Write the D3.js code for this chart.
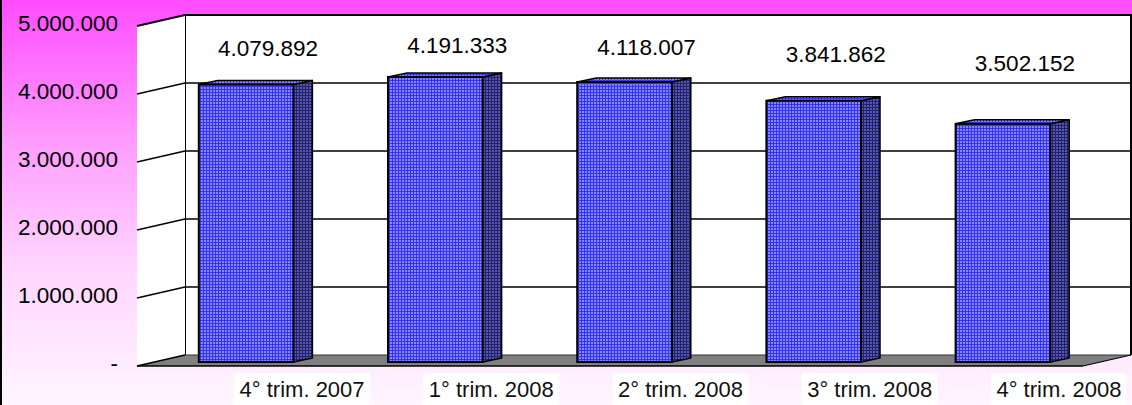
<!DOCTYPE html>
<html>
<head>
<meta charset="utf-8">
<script src="https://cdn.jsdelivr.net/npm/d3@7"></script>
<style>
html,body{margin:0;padding:0;background:#fff;}
svg{display:block;}
</style>
</head>
<body>
<svg id="chart" width="1132" height="405"></svg>
<script>
const categories = ["4° trim. 2007", "1° trim. 2008", "2° trim. 2008", "3° trim. 2008", "4° trim. 2008"];
const values = [4079892, 4191333, 4118007, 3841862, 3502152];
const tickValues = [0, 1000000, 2000000, 3000000, 4000000, 5000000];

const W = 1132, H = 405;
const svg = d3.select("#chart");
const defs = svg.append("defs");

// background gradient
const grad = defs.append("linearGradient").attr("id", "bg").attr("x1", 0).attr("y1", 0).attr("x2", 0).attr("y2", 1);
grad.append("stop").attr("offset", "0").attr("stop-color", "#ff4cff");
grad.append("stop").attr("offset", "0.35").attr("stop-color", "#ff9cff");
grad.append("stop").attr("offset", "0.65").attr("stop-color", "#ffd4ff");
grad.append("stop").attr("offset", "1").attr("stop-color", "#fff6ff");

// bar patterns
function checker(id, base, light) {
  const p = defs.append("pattern").attr("id", id).attr("patternUnits", "userSpaceOnUse")
    .attr("width", 3).attr("height", 3);
  p.append("rect").attr("width", 3).attr("height", 3).attr("fill", base);
  p.append("rect").attr("width", 2).attr("height", 2).attr("fill", light);
}
checker("pFront", "#3434ee", "#8585ff");
checker("pSide", "#22226a", "#5656b0");
checker("pTop", "#3a3aee", "#8888ff");

svg.append("rect").attr("width", W).attr("height", H).attr("fill", "url(#bg)");
svg.append("line").attr("x1", 1).attr("x2", 1).attr("y1", 0).attr("y2", H).attr("stroke", "#000").attr("stroke-width", 2);

// 3D geometry
const frontLeft = 137, frontRight = 1083;
const DX = 48, DY = -11;           // wall depth offset
const y = d3.scaleLinear().domain([0, 5000000]).range([366, 26]);
const x = d3.scaleBand().domain(categories).range([frontLeft, frontRight]).paddingInner(0.5).paddingOuter(0.25);
const bDX = 14.5, bDY = -4;        // bar front offset
const sDX = 19, sDY = -4;          // bar depth

const y0 = y(0), yTop = y(5000000);

// side wall
svg.append("polygon")
  .attr("points", [[frontLeft, y0], [frontLeft, yTop], [frontLeft + DX, yTop + DY], [frontLeft + DX, y0 + DY]].join(" "))
  .attr("fill", "#fff");
// back wall
svg.append("rect").attr("x", frontLeft + DX).attr("y", yTop + DY).attr("width", W - (frontLeft + DX)).attr("height", y0 - yTop)
  .attr("fill", "#fff");
// floor
svg.append("polygon")
  .attr("points", [[frontLeft + DX, y0 + DY], [frontRight + DX, y0 + DY], [frontRight, y0], [frontLeft, y0]].join(" "))
  .attr("fill", "#808080");

// gridlines
const grid = svg.append("g");
tickValues.forEach(v => {
  const fy = Math.round(y(v)), by = fy + DY;
  grid.append("line").attr("x1", frontLeft).attr("y1", fy).attr("x2", frontLeft + DX).attr("y2", by)
    .attr("stroke", "#000").attr("stroke-width", v === 5000000 ? 1.8 : 1.5);
  if (v > 0) {
    grid.append("line").attr("x1", frontLeft + DX).attr("y1", by).attr("x2", W).attr("y2", by)
      .attr("stroke", "#000").attr("stroke-width", v === 5000000 ? 2 : 1.5);
  }
});
// floor edges
grid.append("line").attr("x1", frontLeft).attr("y1", y0).attr("x2", frontRight).attr("y2", y0).attr("stroke", "#000").attr("stroke-width", 1.5);
grid.append("line").attr("x1", frontLeft + DX).attr("y1", y0 + DY).attr("x2", frontRight + DX).attr("y2", y0 + DY).attr("stroke", "#333").attr("stroke-width", 1);
grid.append("line").attr("x1", frontRight).attr("y1", y0).attr("x2", frontRight + DX).attr("y2", y0 + DY).attr("stroke", "#000").attr("stroke-width", 1.2);
// back wall corner & right edge
grid.append("line").attr("x1", frontLeft + DX + 0.5).attr("y1", yTop + DY).attr("x2", frontLeft + DX + 0.5).attr("y2", y0 + DY)
  .attr("stroke", "#000").attr("stroke-width", 1).attr("shape-rendering", "crispEdges");
grid.append("line").attr("x1", W - 1).attr("y1", yTop + DY).attr("x2", W - 1).attr("y2", y0 + DY).attr("stroke", "#000").attr("stroke-width", 2);

// y axis labels
const fmt = d3.formatLocale({decimal: ",", thousands: ".", grouping: [3], currency: ["", ""]}).format(",d");
svg.append("g").selectAll("text").data(tickValues).join("text")
  .attr("x", 118).attr("y", d => y(d) - 3).attr("dy", "0.35em")
  .attr("text-anchor", "end")
  .attr("font-family", "'Liberation Sans', Arial, sans-serif").attr("font-size", 22.5).attr("fill", "#000")
  .text(d => d === 0 ? "-" : fmt(d));

// bars
const bars = svg.append("g").selectAll("g").data(values).join("g");
bars.each(function(v, i) {
  const g = d3.select(this);
  const x0 = x(categories[i]) + bDX, x1 = x0 + x.bandwidth();
  const top = y(v) + bDY, bot = y0 + bDY;
  g.append("polygon").attr("points", [[x1, bot], [x1, top], [x1 + sDX, top + sDY], [x1 + sDX, bot + sDY]].join(" "))
    .attr("fill", "url(#pSide)").attr("stroke", "#000").attr("stroke-width", 1.5).attr("stroke-linejoin", "round");
  g.append("polygon").attr("points", [[x0, top], [x0 + sDX, top + sDY], [x1 + sDX, top + sDY], [x1, top]].join(" "))
    .attr("fill", "url(#pTop)").attr("stroke", "#000").attr("stroke-width", 1.5).attr("stroke-linejoin", "round");
  g.append("rect").attr("x", x0).attr("y", top).attr("width", x1 - x0).attr("height", bot - top)
    .attr("fill", "url(#pFront)").attr("stroke", "#000").attr("stroke-width", 2);
});

// value labels
svg.append("g").selectAll("text").data(values).join("text")
  .attr("x", (d, i) => x(categories[i]) + bDX + x.bandwidth() / 2 + 22)
  .attr("y", d => 16 + 0.38 * (y(d) + bDY)).attr("dy", "0.35em")
  .attr("text-anchor", "middle")
  .attr("font-family", "'Liberation Sans', Arial, sans-serif").attr("font-size", 22.5).attr("fill", "#000")
  .text(d => fmt(d));

// category labels
const cat = svg.append("g").selectAll("g").data(categories).join("g")
  .attr("transform", d => `translate(${x(d) + bDX + x.bandwidth() / 2 + 56},389)`);
cat.append("rect").attr("x", -68).attr("y", -16).attr("width", 136).attr("height", 34).attr("fill", "#fff");
cat.append("text").attr("text-anchor", "middle").attr("dy", "0.35em")
  .attr("font-family", "'Liberation Sans', Arial, sans-serif").attr("font-size", 22).attr("fill", "#111")
  .text(d => d);
</script>
</body>
</html>
